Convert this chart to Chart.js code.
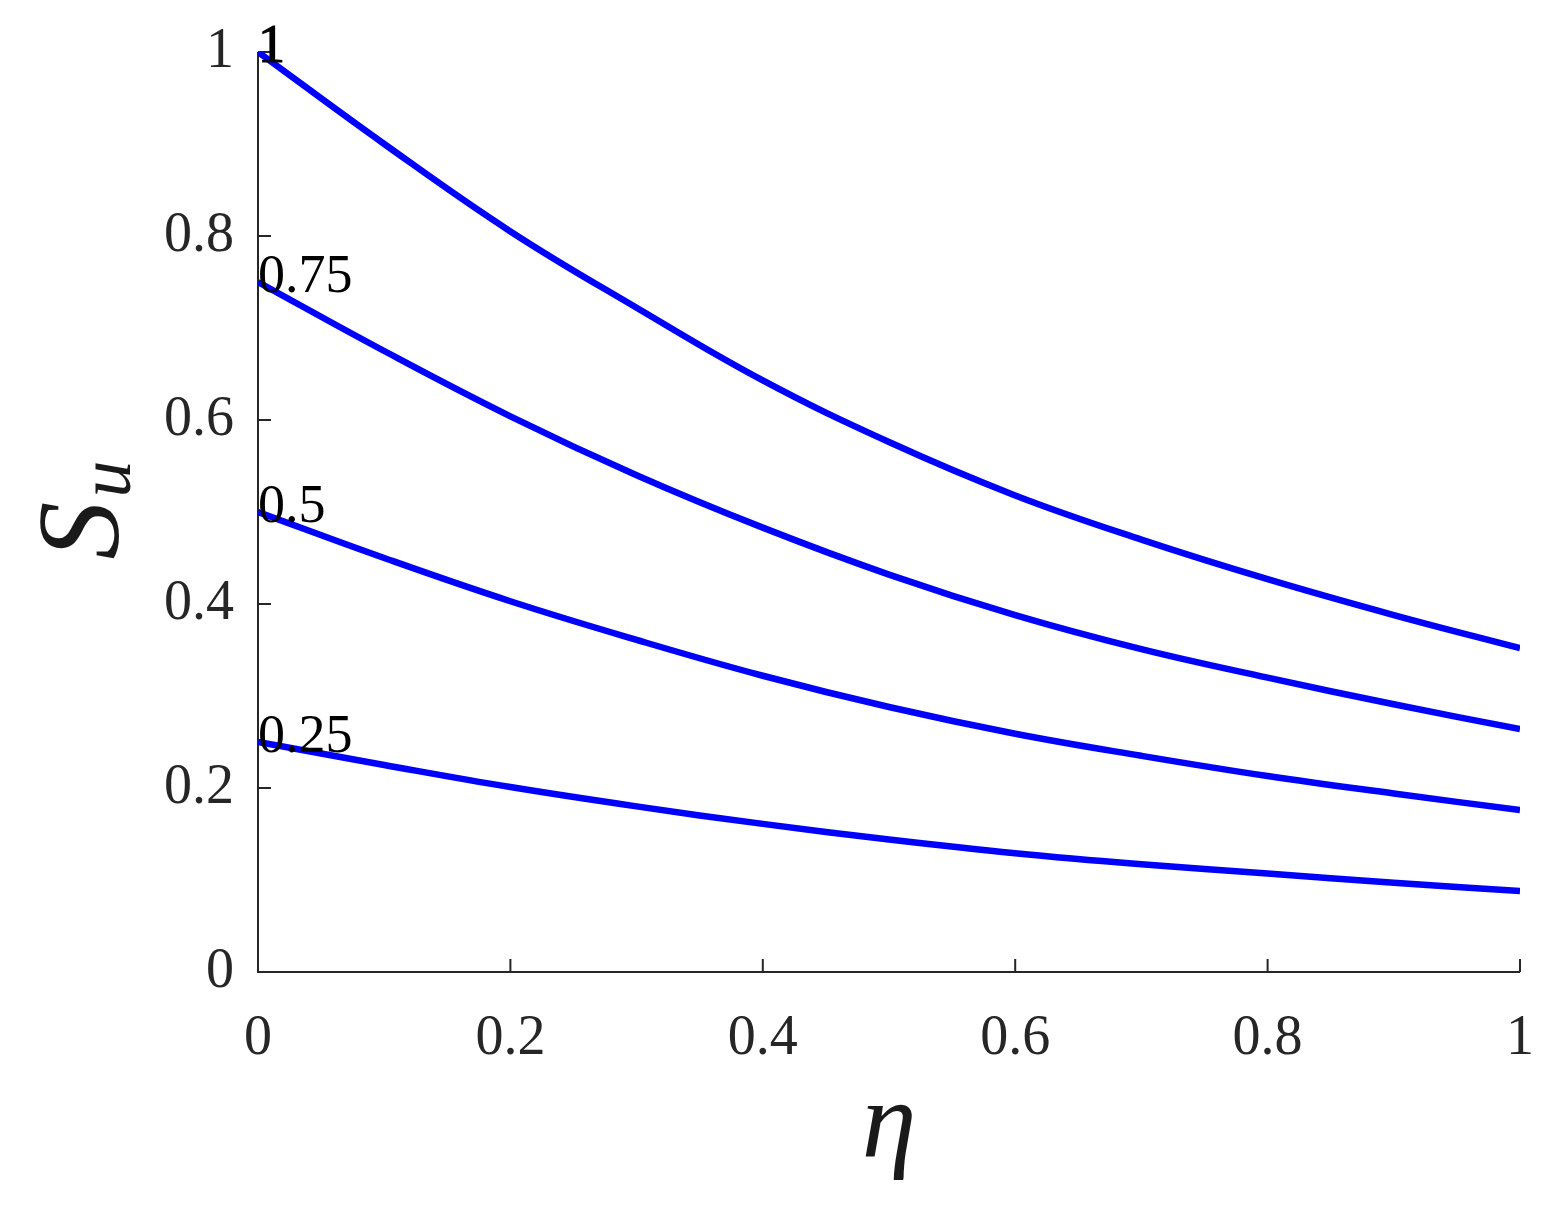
<!DOCTYPE html>
<html>
<head>
<meta charset="utf-8">
<script src="https://cdn.jsdelivr.net/npm/chart.js@4.4.1/dist/chart.umd.min.js"></script>
<style>
  html, body { margin: 0; padding: 0; background: #ffffff; }
  canvas { display: block; }
</style>
</head>
<body>
<canvas id="c" width="1561" height="1211"></canvas>
<script>
// ---- data ----
const eta = [0, 0.1, 0.2, 0.3, 0.4, 0.5, 0.6, 0.7, 0.8, 0.9, 1];
const suA = [1.000, 0.900, 0.805, 0.722, 0.643, 0.576, 0.518, 0.470, 0.427, 0.388, 0.352];
const suB = [0.750, 0.675, 0.604, 0.540, 0.483, 0.432, 0.388, 0.351, 0.320, 0.291, 0.264];
const suC = [0.500, 0.450, 0.403, 0.361, 0.322, 0.288, 0.259, 0.235, 0.213, 0.194, 0.176];
const suD = [0.250, 0.225, 0.201, 0.180, 0.161, 0.144, 0.129, 0.117, 0.107, 0.097, 0.088];
const curveLabels = ['1', '0.75', '0.5', '0.25'];
const xTicks = [0, 0.2, 0.4, 0.6, 0.8, 1];
const xTickLabels = ['0', '0.2', '0.4', '0.6', '0.8', '1'];
const yTicks = [0, 0.2, 0.4, 0.6, 0.8, 1];
const yTickLabels = ['0', '0.2', '0.4', '0.6', '0.8', '1'];

const series = [suA, suB, suC, suD];
const serif = '"Liberation Serif", "DejaVu Serif", "Times New Roman", serif';
const axisColor = '#262626';

const datasets = series.map((vals, i) => ({
  label: curveLabels[i],
  data: eta.map((x, j) => ({ x: x, y: vals[j] })),
  borderColor: '#0000ff',
  backgroundColor: '#0000ff',
  borderWidth: 6.5,
  pointRadius: 0,
  fill: false,
  tension: 0.4,
  borderCapStyle: 'butt'
}));

const decor = {
  id: 'decor',
  beforeDatasetsDraw(chart) {
    const ctx = chart.ctx;
    const xs = chart.scales.x, ys = chart.scales.y;
    const a = chart.chartArea;
    ctx.save();
    ctx.strokeStyle = axisColor;
    ctx.lineWidth = 2;
    ctx.lineCap = 'butt';
    ctx.beginPath();
    ctx.moveTo(a.left, a.top);
    ctx.lineTo(a.left, a.bottom);
    ctx.lineTo(a.right, a.bottom);
    ctx.stroke();
    const tl = 13;
    ctx.beginPath();
    xTicks.forEach(v => {
      const px = xs.getPixelForValue(v);
      ctx.moveTo(px, a.bottom);
      ctx.lineTo(px, a.bottom - tl);
    });
    yTicks.forEach(v => {
      const py = ys.getPixelForValue(v);
      ctx.moveTo(a.left, py);
      ctx.lineTo(a.left + tl, py);
    });
    ctx.stroke();
    ctx.restore();
  },
  afterDatasetsDraw(chart) {
    const ctx = chart.ctx;
    const xs = chart.scales.x, ys = chart.scales.y;
    const a = chart.chartArea;
    ctx.save();
    ctx.fillStyle = '#000000';
    ctx.font = '54px ' + serif;
    ctx.textAlign = 'left';
    ctx.textBaseline = 'alphabetic';
    series.forEach((vals, i) => {
      const px = xs.getPixelForValue(eta[0]);
      const py = ys.getPixelForValue(vals[0]);
      ctx.fillText(curveLabels[i], px, py + 10);
      if (i === 0) {
        ctx.strokeStyle = '#000000';
        ctx.lineWidth = 1.2;
        ctx.strokeText(curveLabels[i], px, py + 10);
      }
    });
    ctx.fillStyle = '#1a1a1a';
    ctx.font = 'italic 110px ' + serif;
    ctx.textAlign = 'center';
    ctx.fillText('\u03B7', (a.left + a.right) / 2, 1157);
    const cy = (a.top + a.bottom) / 2;
    ctx.translate(118, cy);
    ctx.rotate(-Math.PI / 2);
    const fMain = 'italic 116px ' + serif;
    const fSub = 'italic 74px ' + serif;
    ctx.font = fMain;
    const wS = ctx.measureText('S').width;
    ctx.font = fSub;
    const wU = ctx.measureText('u').width;
    const x0 = -(wS + wU) / 2;
    ctx.textAlign = 'left';
    ctx.font = fMain;
    ctx.fillText('S', x0, 0);
    ctx.font = fSub;
    ctx.fillText('u', x0 + wS + 4, 12);
    ctx.restore();
  }
};

new Chart(document.getElementById('c'), {
  type: 'line',
  data: { datasets: datasets },
  options: {
    responsive: false,
    animation: false,
    events: [],
    layout: { padding: { top: 52, right: 41, left: 0, bottom: 0 } },
    plugins: {
      legend: { display: false },
      tooltip: { enabled: false },
      title: { display: false }
    },
    scales: {
      x: {
        type: 'linear',
        min: 0, max: 1,
        afterFit: s => { s.height = 239; s.paddingLeft = 0; s.paddingRight = 0; },
        afterBuildTicks: s => { s.ticks = xTicks.map(v => ({ value: v })); },
        grid: { display: false, drawTicks: false },
        border: { display: false },
        ticks: {
          autoSkip: false,
          maxRotation: 0,
          padding: 34,
          color: axisColor,
          font: { family: serif, size: 56 },
          callback: (v, i) => xTickLabels[i]
        }
      },
      y: {
        type: 'linear',
        min: 0, max: 1,
        afterFit: s => { s.width = 258; s.paddingTop = 0; s.paddingBottom = 0; },
        afterBuildTicks: s => { s.ticks = yTicks.map(v => ({ value: v })); },
        grid: { display: false, drawTicks: false },
        border: { display: false },
        ticks: {
          autoSkip: false,
          padding: 24,
          color: axisColor,
          font: { family: serif, size: 56 },
          callback: (v, i) => yTickLabels[i]
        }
      }
    }
  },
  plugins: [decor]
});
</script>
</body>
</html>
